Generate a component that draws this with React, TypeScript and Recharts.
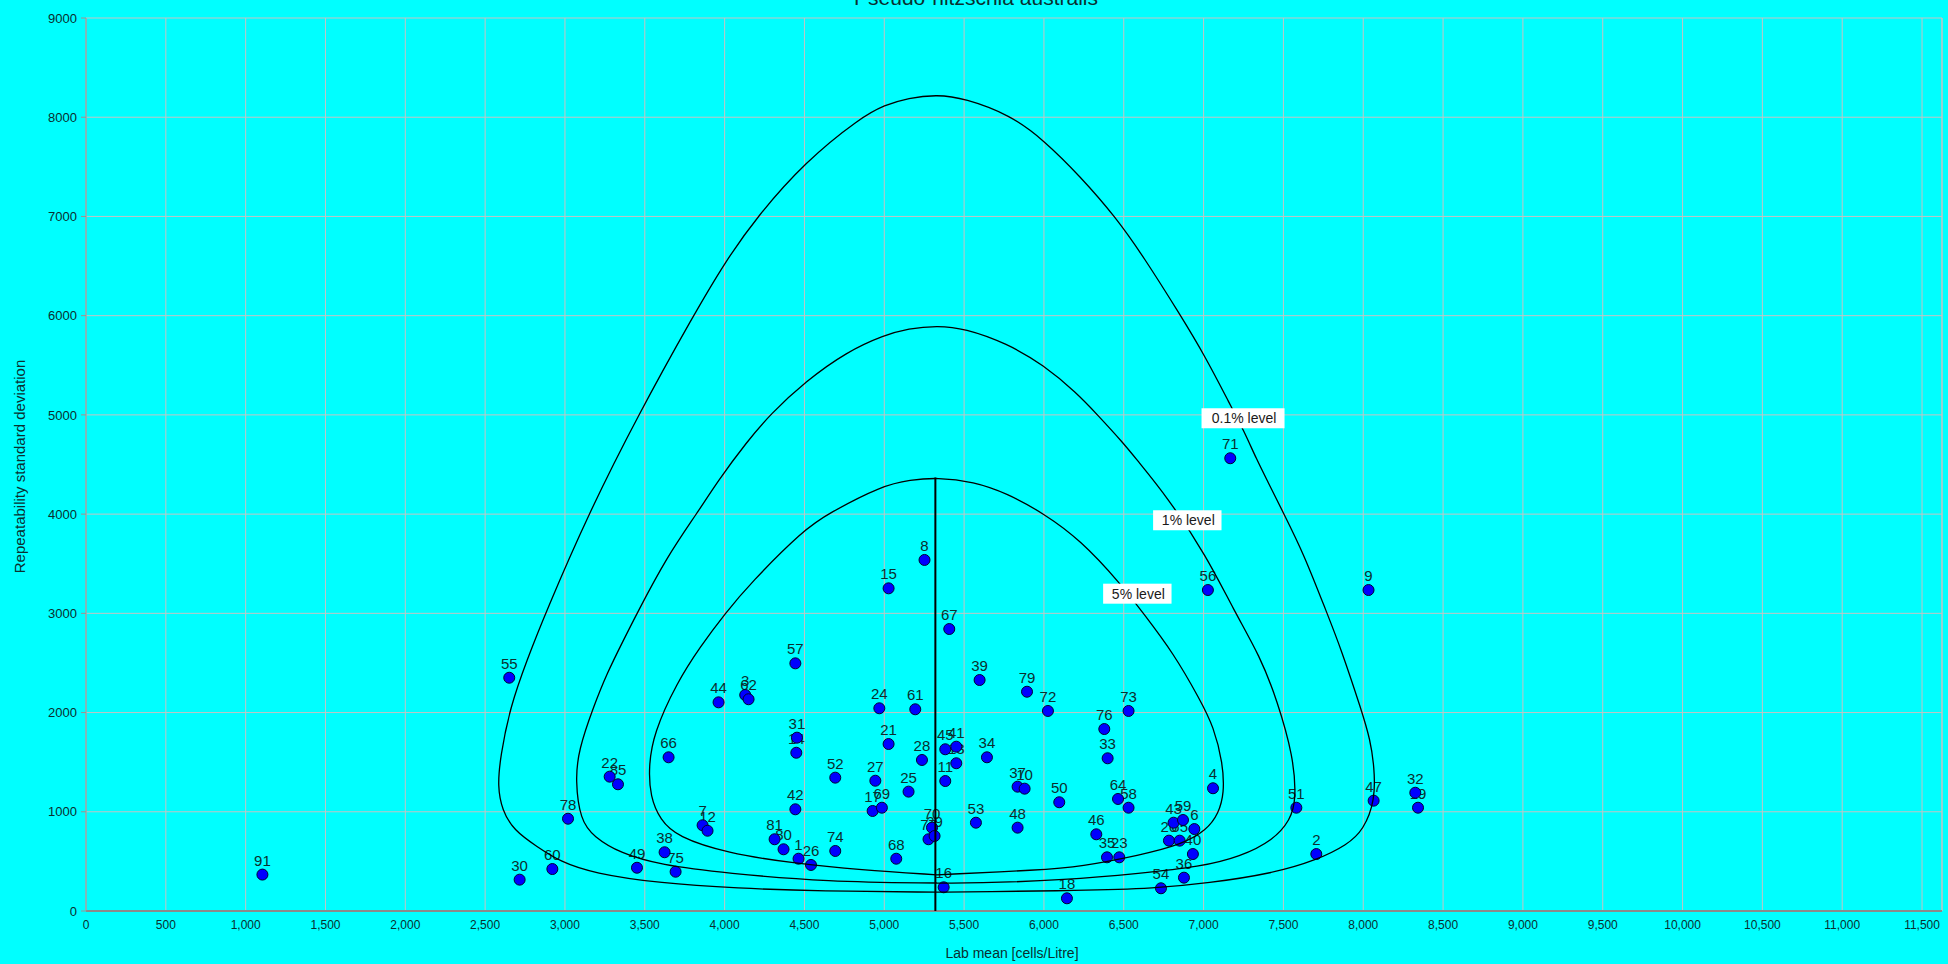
import React from 'react';
import { ScatterChart, Scatter, XAxis, YAxis, CartesianGrid, ReferenceLine } from 'recharts';

// ---- Lab results (label, lab mean, repeatability SD) ----
const labLabels = ['91','30','60','55','78','22','85','49','38','66','75','7','12','44','3','62','81','80','42','57','31','14','1','26','52','74','17','27','24','69','15','21','68','25','61','28','8','77','70','29','16','45','11','67','41','13','53','39','34','37','48','10','79','72','50','18','46','76','35','33','64','23','73','58','54','20','43','65','59','36','40','6','56','4','71','51','2','9','47','32','19'];
const labMeans = [1105,2716,2921,2651,3019,3280,3332,3451,3624,3649,3693,3862,3893,3962,4129,4150,4313,4369,4443,4443,4453,4449,4463,4541,4693,4693,4927,4944,4969,4985,5027,5027,5075,5152,5194,5236,5252,5277,5299,5315,5372,5382,5382,5407,5451,5451,5574,5597,5643,5835,5835,5879,5894,6025,6096,6144,6328,6378,6395,6399,6464,6472,6530,6530,6733,6783,6812,6850,6871,6877,6933,6942,7027,7059,7167,7581,7706,8033,8065,8326,8343];
const labSDs = [367,316,423,2351,930,1354,1277,436,592,1549,396,864,809,2103,2177,2134,723,622,1025,2496,1747,1595,527,464,1344,605,1008,1313,2043,1041,3252,1683,527,1203,2033,1522,3538,723,840,756,239,1630,1310,2842,1656,1489,890,2328,1549,1253,840,1233,2210,2016,1096,128,773,1834,541,1539,1129,541,2016,1041,229,709,890,709,917,336,574,826,3235,1237,4563,1041,574,3235,1112,1192,1041];

// ---- Critical contours ----
const level01X = [5330,4600,4077,3597,3179,2971,2825,2678,2606,2578,2595,2657,2762,2877,3148,3461,3806,4004,4203,4505,4850,5002,5150,5330,5503,5789,5998,6229,6447,6624,6854,7011,7167,7250,7334,7397,7501,7626,7773,7856,7992,8044,8069,8075,8002,7898,7710,7438,7021,6708,6200,5622,5330];
const level01Y = [190,200,229,279,380,497,648,816,1018,1253,1555,2059,2530,3000,4008,5006,6007,6544,6998,7552,7995,8123,8195,8228,8191,8022,7771,7401,6998,6594,6007,5587,5100,4848,4545,4344,4008,3605,3000,2664,2009,1723,1454,1119,816,665,514,380,279,229,205,195,190];

const level1X = [5330,4641,4015,3597,3347,3179,3096,3065,3085,3179,3263,3367,3451,3639,3827,3962,4140,4286,4505,4766,5002,5150,5330,5503,5768,5998,6207,6332,6499,6583,6771,7021,7188,7355,7460,7563,7580,7543,7438,7230,6979,6604,6144,5559,5330];
const level1Y = [282,295,380,464,582,749,917,1320,1623,2059,2396,2731,3000,3571,4008,4344,4730,5006,5335,5637,5805,5870,5900,5873,5721,5503,5218,5006,4714,4545,4176,3571,3034,2563,2127,1555,1119,917,716,547,446,380,312,279,282];

const level5X = [5330,4850,4432,4015,3702,3597,3534,3524,3555,3700,3847,4004,4161,4494,4651,4990,5163,5330,5560,5768,5998,6229,6478,6624,6812,6979,7063,7121,7129,7094,7021,6855,6604,6229,5977,5330];
const level5Y = [365,413,481,582,749,917,1152,1454,1791,2300,2664,3000,3303,3840,4008,4290,4344,4370,4327,4210,4008,3739,3303,2997,2597,2126,1857,1489,1186,985,816,665,564,446,413,365];

const centreX = [5320, 5320];
const centreY = [0, 4370];

const levelNames = ['0.1% level', '1% level', '5% level'];
const levelLabelX = [7247, 6898, 6585];
const levelLabelY = [4966, 3938, 3198];

const X_MAX = 11625;
const xTicks = [0,500,1000,1500,2000,2500,3000,3500,4000,4500,5000,5500,6000,6500,7000,7500,8000,8500,9000,9500,10000,10500,11000,11500];
const yTicks = [0,1000,2000,3000,4000,5000,6000,7000,8000,9000];

const FONT = '"Liberation Sans", Arial, sans-serif';
const TEXT = '#0b2f2f';

const toPoints = (xs: number[], ys: number[]) => xs.map((x, i) => ({ x, y: ys[i] }));
const labData = labLabels.map((lab, i) => ({ lab, x: labMeans[i], y: labSDs[i] }));
const levelData = levelNames.map((name, i) => ({ name, x: levelLabelX[i], y: levelLabelY[i] }));

const noShape = () => <g />;

const Marker = (p: any) => (
  <circle cx={p.cx} cy={p.cy} r={5.5} fill="#0000ff" stroke="#000033" strokeWidth={1} />
);

const LabText = (p: any) => (
  <text x={p.cx} y={p.cy - 9} textAnchor="middle" fontSize={15} fontFamily={FONT} fill={TEXT}>
    {p.payload.lab}
  </text>
);

const LevelBox = (p: any) => {
  const name: string = p.payload.name;
  const w = name.length * 7.3 + 10;
  const h = 20;
  return (
    <g>
      <rect x={p.cx - w / 2} y={p.cy - h / 2} width={w} height={h} fill="#ffffff" />
      <text x={p.cx + 1} y={p.cy + 5} textAnchor="middle" fontSize={14} fontFamily={FONT} fill="#1a1a1a">
        {name}
      </text>
    </g>
  );
};

const XTick = (p: any) => (
  <text x={p.x} y={p.y + 18} textAnchor="middle" fontSize={12} fontFamily={FONT} fill={TEXT}>
    {Number(p.payload.value).toLocaleString('en-US')}
  </text>
);

const YTitle = (p: any) => {
  const vb = p.viewBox || { x: 0, y: 18, width: 86, height: 893 };
  const cx = vb.x + 19;
  const cy = vb.y + vb.height / 2 + 2;
  return (
    <text x={cx} y={cy} transform={`rotate(-90 ${cx} ${cy})`} textAnchor="middle" dominantBaseline="central" fontSize={15} fontFamily={FONT} fill={TEXT}>
      Repeatability standard deviation
    </text>
  );
};

const XTitle = (p: any) => {
  const vb = p.viewBox || { x: 86, y: 911, width: 1856, height: 53 };
  return (
    <text x={vb.x + vb.width / 2 - 2} y={vb.y + 47} textAnchor="middle" fontSize={14} fontFamily={FONT} fill={TEXT}>
      Lab mean [cells/Litre]
    </text>
  );
};

const curveLine = { stroke: '#000000', strokeWidth: 1.3 };

export default function App() {
  return (
    <div style={{ position: 'relative', width: 1948, height: 964, background: '#00ffff', overflow: 'hidden' }}>
      <style>{`html,body{margin:0;padding:0;background:#00ffff;overflow:hidden;}`}</style>
      <ScatterChart width={1948} height={964} margin={{ top: 18, right: 6, bottom: 0, left: 0 }}>
        <CartesianGrid stroke="#c4c4c4" strokeWidth={1} />
        <XAxis
          dataKey="x"
          type="number"
          domain={[0, X_MAX]}
          ticks={xTicks}
          interval={0}
          allowDataOverflow
          height={53}
          tickSize={0}
          tickMargin={0}
          tickLine={false}
          axisLine={{ stroke: '#8a8a8a', strokeWidth: 2 }}
          tick={<XTick />}
          label={<XTitle />}
        />
        <YAxis
          dataKey="y"
          type="number"
          domain={[0, 9000]}
          ticks={yTicks}
          interval={0}
          allowDataOverflow
          width={86}
          tickSize={5}
          tickMargin={4}
          tickLine={{ stroke: '#a09090' }}
          axisLine={{ stroke: '#a09090' }}
          tick={{ fontSize: 13, fill: TEXT, fontFamily: FONT }}
          label={<YTitle />}
        />
        <ReferenceLine x={X_MAX} stroke="#c4c4c4" />
        <Scatter data={labData} shape={LabText} isAnimationActive={false} />
        <Scatter data={labData} shape={Marker} isAnimationActive={false} />
        <Scatter data={toPoints(level01X, level01Y)} shape={noShape} line={curveLine} lineType="joint" lineJointType="basis" isAnimationActive={false} />
        <Scatter data={toPoints(level1X, level1Y)} shape={noShape} line={curveLine} lineType="joint" lineJointType="basis" isAnimationActive={false} />
        <Scatter data={toPoints(level5X, level5Y)} shape={noShape} line={curveLine} lineType="joint" lineJointType="basis" isAnimationActive={false} />
        <Scatter data={toPoints(centreX, centreY)} shape={noShape} line={{ stroke: '#000000', strokeWidth: 2 }} lineType="joint" isAnimationActive={false} />
        <Scatter data={levelData} shape={LevelBox} isAnimationActive={false} />
      </ScatterChart>
      <svg style={{ position: 'absolute', left: 0, top: 0 }} width={1948} height={20}>
        <text x={976} y={5} textAnchor="middle" fontSize={21} fontFamily={FONT} fill={TEXT}>
          Pseudo-nitzschia australis
        </text>
      </svg>
    </div>
  );
}
